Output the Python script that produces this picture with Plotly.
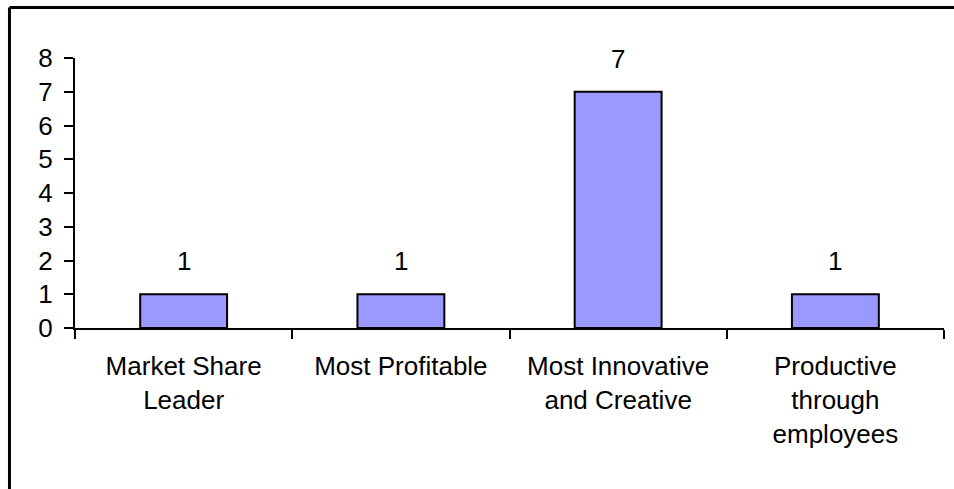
import plotly.graph_objects as go

categories = ["Market Share<br>Leader", "Most Profitable", "Most Innovative<br>and Creative",
              "Productive<br>through<br>employees"]
values = [1, 1, 7, 1]
y_ticks = [0, 1, 2, 3, 4, 5, 6, 7, 8]

FONT = "Liberation Sans, Arial, sans-serif"
SIZE = 26

fig = go.Figure(
    go.Bar(
        x=categories,
        y=values,
        marker=dict(color="#9999FF", line=dict(color="black", width=2)),
        hoverinfo="skip",
    )
)

# value labels above each bar
for cat, val in zip(categories, values):
    fig.add_annotation(
        x=cat, y=val, text=str(val), showarrow=False,
        yanchor="middle", yshift=33,
        font=dict(family=FONT, size=SIZE, color="black"),
    )

# outer chart frame (left and top edges)
frame = dict(type="line", xref="paper", yref="paper", line=dict(color="black", width=3))
fig.add_shape(x0=-0.0754, x1=-0.0754, y0=1.187, y1=-0.7, **frame)
fig.add_shape(x0=-0.0754, x1=1.05, y0=1.187, y1=1.187, **frame)

fig.update_layout(
    width=954, height=489,
    margin=dict(l=75, r=10, t=58, b=161),
    paper_bgcolor="white", plot_bgcolor="white",
    bargap=0.6,
    showlegend=False,
    font=dict(family=FONT, size=SIZE, color="black"),
)
fig.update_xaxes(
    showline=True, linecolor="black", linewidth=2,
    ticks="outside", tickson="boundaries", ticklen=9, tickwidth=2, tickcolor="black",
    showgrid=False, zeroline=False,
    ticklabelstandoff=14,
    tickfont=dict(family=FONT, size=SIZE, color="black"),
)
fig.update_yaxes(
    range=[0, 8], tickvals=y_ticks,
    showline=True, linecolor="black", linewidth=2,
    ticks="outside", ticklen=9, tickwidth=2, tickcolor="black",
    showgrid=False, zeroline=False,
    ticklabelstandoff=6,
    tickfont=dict(family=FONT, size=SIZE, color="black"),
)

fig.write_html("out.html")
